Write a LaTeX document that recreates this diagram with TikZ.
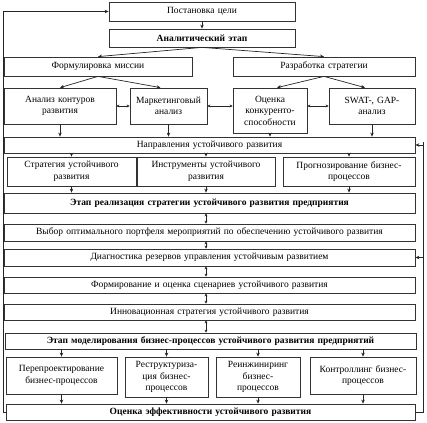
\documentclass[tikz,border=0pt]{standalone}
\usepackage{fontspec}
\setmainfont{Liberation Serif}
\usetikzlibrary{arrows.meta}
\tikzset{
  bx/.style 2 args={draw=black!80, line width=0.75pt, inner xsep=0pt, inner ysep=1pt,
    text width=#1pt, minimum height=#2pt, align=center,
    font=\fontsize{9.5}{11.5}\selectfont},
  bold/.style={font=\fontsize{9.5}{11.5}\selectfont\bfseries},
  arr/.style={-{Stealth[length=4pt,width=3.5pt]}, line width=0.7pt, black!85},
  darr/.style={{Stealth[length=3pt,width=3pt]}-{Stealth[length=3pt,width=3pt]}, line width=0.6pt, black!85},
  fb/.style={line width=0.8pt, black!85}
}
\begin{document}
\begin{tikzpicture}[x=1pt,y=-1pt]
\useasboundingbox (0,0) rectangle (427,422);
\node[bx={186}{19}] (goal) at (202,11.5) {Постановка цели};
\node[bx={186}{18},bold] (anal) at (202,38) {Аналитический этап};
\node[bx={188}{19}] (mission) at (98,66.5) {Формулировка миссии};
\node[bx={182}{19}] (strat) at (324,66.5) {Разработка стратегии};
\node[bx={112}{36}] (kont) at (60,106) {Анализ контуров\\развития};
\node[bx={77}{36}] (mark) at (168.5,106) {Маркетинговый\\анализ};
\node[bx={74}{45}] (konk) at (270,110.5) {Оценка\\конкуренто-\\способности};
\node[bx={86}{36}] (swat) at (372,106) {SWAT-, GAP-\\анализ};
\node[bx={411}{16}] (napr) at (209.5,145) {Направления устойчивого развития};
\node[bx={129}{29}] (sur) at (71.5,171.5) {Стратегия устойчивого\\развития};
\node[bx={138}{29}] (instr) at (206,171.5) {Инструменты устойчивого\\развития};
\node[bx={132}{29}] (prog) at (349,171.5) {Прогнозирование бизнес-\\процессов};
\node[bx={411}{20},bold] (etap1) at (209.5,203) {Этап реализация стратегии устойчивого развития предприятия};
\node[bx={411}{17}] (vybor) at (209.5,232.5) {Выбор оптимального портфеля мероприятий по обеспечению устойчивого развития};
\node[bx={411}{17}] (diag) at (209.5,257.5) {Диагностика резервов управления устойчивым развитием};
\node[bx={411}{16}] (form) at (209.5,285) {Формирование и оценка сценариев устойчивого развития};
\node[bx={411}{16}] (innov) at (209.5,312) {Инновационная стратегия устойчивого развития};
\node[bx={411}{16},bold] (etap2) at (210.5,341) {Этап моделирования бизнес-процессов устойчивого развития предприятий};
\node[bx={111}{37}] (perep) at (61.5,375.5) {Перепроектирование\\бизнес-процессов};
\node[bx={83}{40}] (restr) at (166.5,377) {Реструктуриза-\\ция бизнес-\\процессов};
\node[bx={84}{40}] (reinzh) at (258,377) {Реинжиниринг\\бизнес-\\процессов};
\node[bx={106}{37}] (kontr) at (363,375.5) {Контроллинг бизнес-\\процессов};
\node[bx={409}{16},bold] (ocen) at (210.5,412) {Оценка эффективности устойчивого развития};
\coordinate (lft) at (3,0);
\coordinate (rgt) at (423,0);
\coordinate (mid) at (206,0);
% top
\draw[arr] (goal) -- (anal);
\draw[arr] (anal.south) -- (mission.north);
\draw[arr] (anal.south) -- (strat.north);
\draw[arr] (mission.south) -- (kont.north);
\draw[arr] (mission.south) -- ([xshift=-8pt]mark.north);
\draw[arr] (strat.south) -- ([xshift=7pt]konk.north);
\draw[arr] (strat.south) -- ([xshift=-7pt]swat.north);
\draw[darr] (kont.east) -- (mark.west);
\draw[darr] (mark.east) -- (mark.east -| konk.west);
\draw[darr] (konk.east |- swat.west) -- (swat.west);
\foreach \n in {kont,mark,konk,swat} \draw[arr] (\n.south) -- (\n.south |- napr.north);
\foreach \n in {sur,instr,prog} {
  \draw[arr] (napr.south -| \n.north) -- (\n.north);
  \draw[arr] (\n.south) -- (\n.south |- etap1.north);
}
\draw[darr] (etap1.south -| mid) -- (vybor.north -| mid);
\draw[darr] (vybor.south -| mid) -- (diag.north -| mid);
\draw[darr] (diag.south -| mid) -- (form.north -| mid);
\draw[darr] (form.south -| mid) -- (innov.north -| mid);
\draw[darr] (innov.south -| mid) -- (etap2.north -| mid);
\foreach \n in {perep,restr,reinzh,kontr} {
  \draw[arr] (etap2.south -| \n.north) -- (\n.north);
  \draw[arr] (\n.south) -- (\n.south |- ocen.north);
}
% feedback
\draw[arr,fb] (ocen.west) -- (ocen.west -| lft) -- (goal.west -| lft) -- (goal.west);
\draw[fb] (ocen.east) -- (ocen.east -| rgt) -- ([yshift=3pt]napr.east -| rgt);
\draw[arr] (napr.east -| rgt) -- (napr.east);
\draw[arr] (diag.east -| rgt) -- (diag.east);
\end{tikzpicture}
\end{document}
